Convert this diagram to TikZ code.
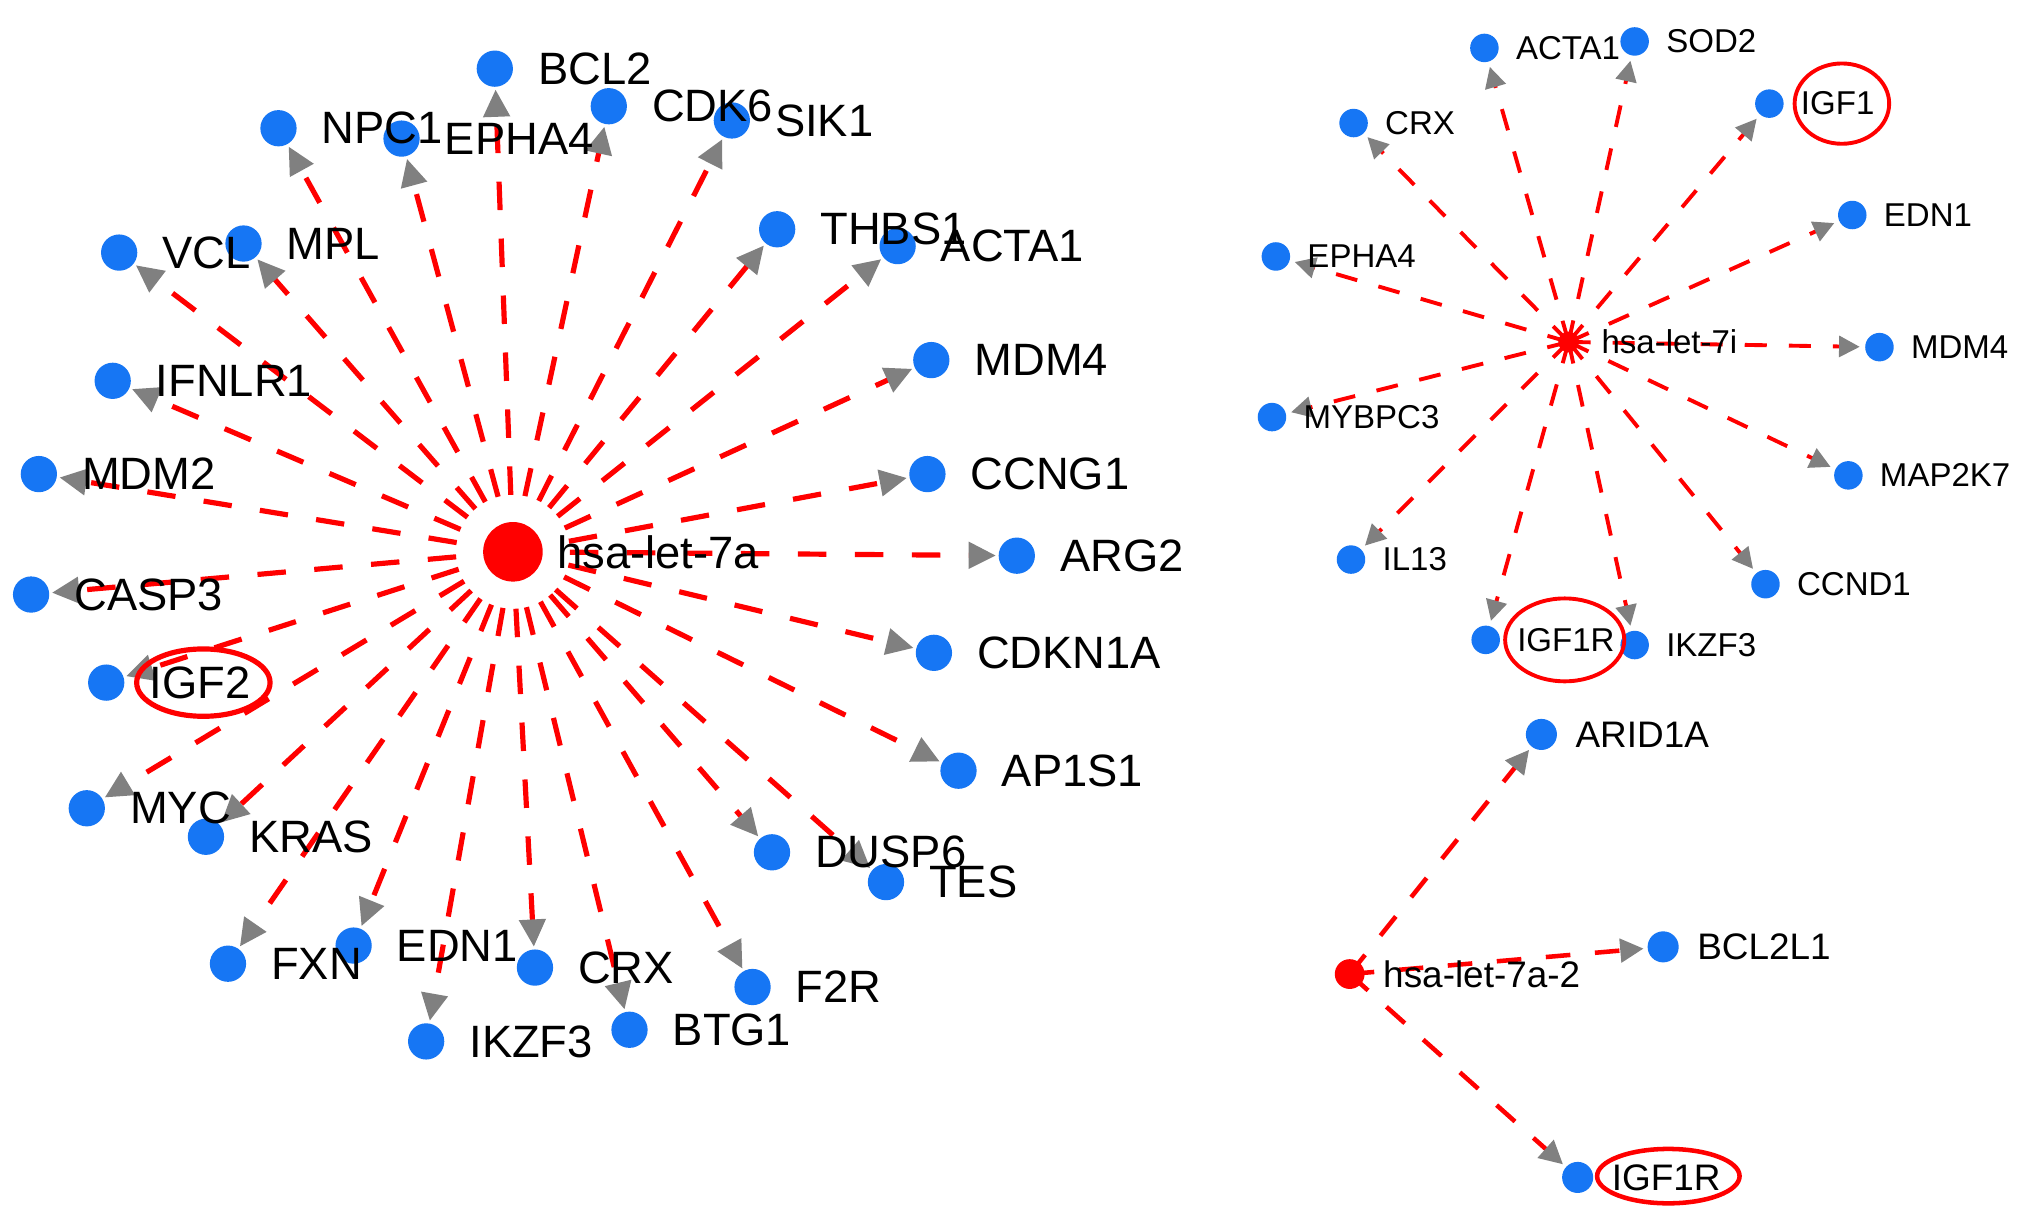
\documentclass[tikz,border=0pt]{standalone}
\usepackage{fontspec}
\setmainfont{Liberation Sans}
\usetikzlibrary{arrows.meta,
    positioning,
    shapes.geometric,
    backgrounds}

\definecolor{geneblue}{RGB}{22,118,244}
\definecolor{tipgray}{RGB}{128,128,128}

\begin{document}
\begin{tikzpicture} [x = 1pt, y = -1pt,
    node distance = 19pt,
    gene/.style = {circle, fill = geneblue, inner sep = 0pt, minimum size = 28pt},
    genei/.style = {gene, minimum size = 22pt},
    geneb/.style = {gene, minimum size = 24pt},
    mir/.style = {circle, fill = red, inner sep = 0pt},
    lbl/.style = {inner sep = 0pt, font = \fontsize{35}{40}\selectfont},
    lbli/.style = {inner sep = 0pt, font = \fontsize{25.5}{30}\selectfont},
    lblb/.style = {inner sep = 0pt, font = \fontsize{28.5}{33}\selectfont},
    hilite/.style = {ellipse, draw = red, line width = 4pt, inner sep = 0pt},
    edgeA/.style = {draw = red, line width = 4pt, dash pattern = on 22pt off 22pt,
        -{Triangle[color = tipgray, length = 21pt, width = 20pt]}, shorten > = 2pt},
    edgeI/.style = {draw = red, line width = 3pt, dash pattern = on 17pt off 17pt,
        -{Triangle[color = tipgray, length = 16pt, width = 16pt]}, shorten > = 4pt},
    edgeB/.style = {draw = red, line width = 3.5pt, dash pattern = on 19pt off 19pt,
        -{Triangle[color = tipgray, length = 18pt, width = 18pt]}, shorten > = 3pt}]

% hsa-let-7a
\node[mir, minimum size = 46pt] (let7a) at (396,426) {};
\node[gene] (bcl2) at (382,53) {};
\node[gene] (cdk6) at (470,82) {};
\node[gene] (sik1) at (565,93) {};
\node[gene] (npc1) at (215,99) {};
\node[gene] (epha4) at (310,107) {};
\node[gene] (vcl) at (92,195) {};
\node[gene] (mpl) at (188,188) {};
\node[gene] (thbs1) at (600,177) {};
\node[gene] (acta1) at (693,190) {};
\node[gene] (mdm4) at (719,278) {};
\node[gene] (ifnlr1) at (87,294) {};
\node[gene] (ccng1) at (716,366) {};
\node[gene] (mdm2) at (30,366) {};
\node[gene] (arg2) at (785,429) {};
\node[gene] (casp3) at (24,459) {};
\node[gene] (cdkn1a) at (721,504) {};
\node[gene] (igf2) at (82,527) {};
\node[gene] (ap1s1) at (740,595) {};
\node[gene] (myc) at (67,624) {};
\node[gene] (kras) at (159,646) {};
\node[gene] (dusp6) at (596,658) {};
\node[gene] (tes) at (684,681) {};
\node[gene] (fxn) at (176,744) {};
\node[gene] (edn1) at (273,730) {};
\node[gene] (crx) at (413,747) {};
\node[gene] (f2r) at (581,762) {};
\node[gene] (ikzf3) at (329,804) {};
\node[gene] (btg1) at (486,795) {};

% hsa-let-7i
\node[mir, minimum size = 16pt] (let7i) at (1211,264) {};
\node[genei] (acta1-7i) at (1146,37) {};
\node[genei] (sod2) at (1262,32) {};
\node[genei] (igf1) at (1366,80) {};
\node[genei] (crx-7i) at (1045,95) {};
\node[genei] (edn1-7i) at (1430,166) {};
\node[genei] (epha4-7i) at (985,198) {};
\node[genei] (mdm4-7i) at (1451,268) {};
\node[genei] (mybpc3) at (982,322) {};
\node[genei] (map2k7) at (1427,367) {};
\node[genei] (il13) at (1043,432) {};
\node[genei] (ccnd1) at (1363,451) {};
\node[genei] (igf1r-7i) at (1147,494) {};
\node[genei] (ikzf3-7i) at (1262,498) {};

% hsa-let-7a-2
\node[mir, minimum size = 23pt] (let7a2) at (1042,752) {};
\node[geneb] (arid1a) at (1190,567) {};
\node[geneb] (bcl2l1) at (1284,731) {};
\node[geneb] (igf1r-7a2) at (1218,909) {};

\begin{scope}[on background layer]
\fill[white] (0,0) rectangle (1568,940);
\foreach \t in {bcl2, cdk6, sik1, npc1, epha4, vcl, mpl, thbs1, acta1, mdm4,
    ifnlr1, ccng1, mdm2, arg2, casp3, cdkn1a, igf2, ap1s1, myc, kras, dusp6,
    tes, fxn, edn1, crx, f2r, ikzf3, btg1}
    \draw[edgeA] (let7a.center) -- (\t);
\foreach \t in {acta1-7i, sod2, igf1, crx-7i, edn1-7i, epha4-7i, mdm4-7i,
    mybpc3, map2k7, il13, ccnd1, igf1r-7i, ikzf3-7i}
    \draw[edgeI] (let7i.center) -- (\t);
\foreach \t in {arid1a, bcl2l1, igf1r-7a2}
    \draw[edgeB] (let7a2.center) -- (\t);
\end{scope}

% labels
\node[lbl, right = 11pt of let7a] (let7a-t) {hsa-let-7a};
\node[lbl, right = of bcl2] (bcl2-t) {BCL2};
\node[lbl, right = of cdk6] (cdk6-t) {CDK6};
\node[lbl, right = of sik1] (sik1-t) {SIK1};
\node[lbl, right = of npc1] (npc1-t) {NPC1};
\node[lbl, right = of epha4] (epha4-t) {EPHA4};
\node[lbl, right = of vcl] (vcl-t) {VCL};
\node[lbl, right = of mpl] (mpl-t) {MPL};
\node[lbl, right = of thbs1] (thbs1-t) {THBS1};
\node[lbl, right = of acta1] (acta1-t) {ACTA1};
\node[lbl, right = of mdm4] (mdm4-t) {MDM4};
\node[lbl, right = of ifnlr1] (ifnlr1-t) {IFNLR1};
\node[lbl, right = of ccng1] (ccng1-t) {CCNG1};
\node[lbl, right = of mdm2] (mdm2-t) {MDM2};
\node[lbl, right = of arg2] (arg2-t) {ARG2};
\node[lbl, right = of casp3] (casp3-t) {CASP3};
\node[lbl, right = of cdkn1a] (cdkn1a-t) {CDKN1A};
\node[lbl, right = of igf2] (igf2-t) {IGF2};
\node[lbl, right = of ap1s1] (ap1s1-t) {AP1S1};
\node[lbl, right = of myc] (myc-t) {MYC};
\node[lbl, right = of kras] (kras-t) {KRAS};
\node[lbl, right = of dusp6] (dusp6-t) {DUSP6};
\node[lbl, right = of tes] (tes-t) {TES};
\node[lbl, right = of fxn] (fxn-t) {FXN};
\node[lbl, right = of edn1] (edn1-t) {EDN1};
\node[lbl, right = of crx] (crx-t) {CRX};
\node[lbl, right = of f2r] (f2r-t) {F2R};
\node[lbl, right = of ikzf3] (ikzf3-t) {IKZF3};
\node[lbl, right = of btg1] (btg1-t) {BTG1};

\node[lbli, right = 17pt of let7i] (let7i-t) {hsa-let-7i};
\node[lbli, right = 13pt of acta1-7i] (acta1-7i-t) {ACTA1};
\node[lbli, right = 13pt of sod2] (sod2-t) {SOD2};
\node[lbli, right = 13pt of igf1] (igf1-t) {IGF1};
\node[lbli, right = 13pt of crx-7i] (crx-7i-t) {CRX};
\node[lbli, right = 13pt of edn1-7i] (edn1-7i-t) {EDN1};
\node[lbli, right = 13pt of epha4-7i] (epha4-7i-t) {EPHA4};
\node[lbli, right = 13pt of mdm4-7i] (mdm4-7i-t) {MDM4};
\node[lbli, right = 13pt of mybpc3] (mybpc3-t) {MYBPC3};
\node[lbli, right = 13pt of map2k7] (map2k7-t) {MAP2K7};
\node[lbli, right = 13pt of il13] (il13-t) {IL13};
\node[lbli, right = 13pt of ccnd1] (ccnd1-t) {CCND1};
\node[lbli, right = 13pt of igf1r-7i] (igf1r-7i-t) {IGF1R};
\node[lbli, right = 13pt of ikzf3-7i] (ikzf3-7i-t) {IKZF3};

\node[lblb, right = 14pt of let7a2] (let7a2-t) {hsa-let-7a-2};
\node[lblb, right = 14pt of arid1a] (arid1a-t) {ARID1A};
\node[lblb, right = 14pt of bcl2l1] (bcl2l1-t) {BCL2L1};
\node[lblb, right = 14pt of igf1r-7a2] (igf1r-7a2-t) {IGF1R};

% highlighted targets
\node[hilite, minimum width = 103pt, minimum height = 52pt] (igf2-h) at (157,527) {};
\node[hilite, line width = 3pt, minimum width = 73pt, minimum height = 62pt] (igf1-h) at (1422,80) {};
\node[hilite, line width = 3pt, minimum width = 92pt, minimum height = 64pt] (igf1r-7i-h) at (1208,494) {};
\node[hilite, line width = 3.5pt, minimum width = 110pt, minimum height = 42pt] (igf1r-7a2-h) at (1288,908) {};
\end{tikzpicture}
\end{document}
